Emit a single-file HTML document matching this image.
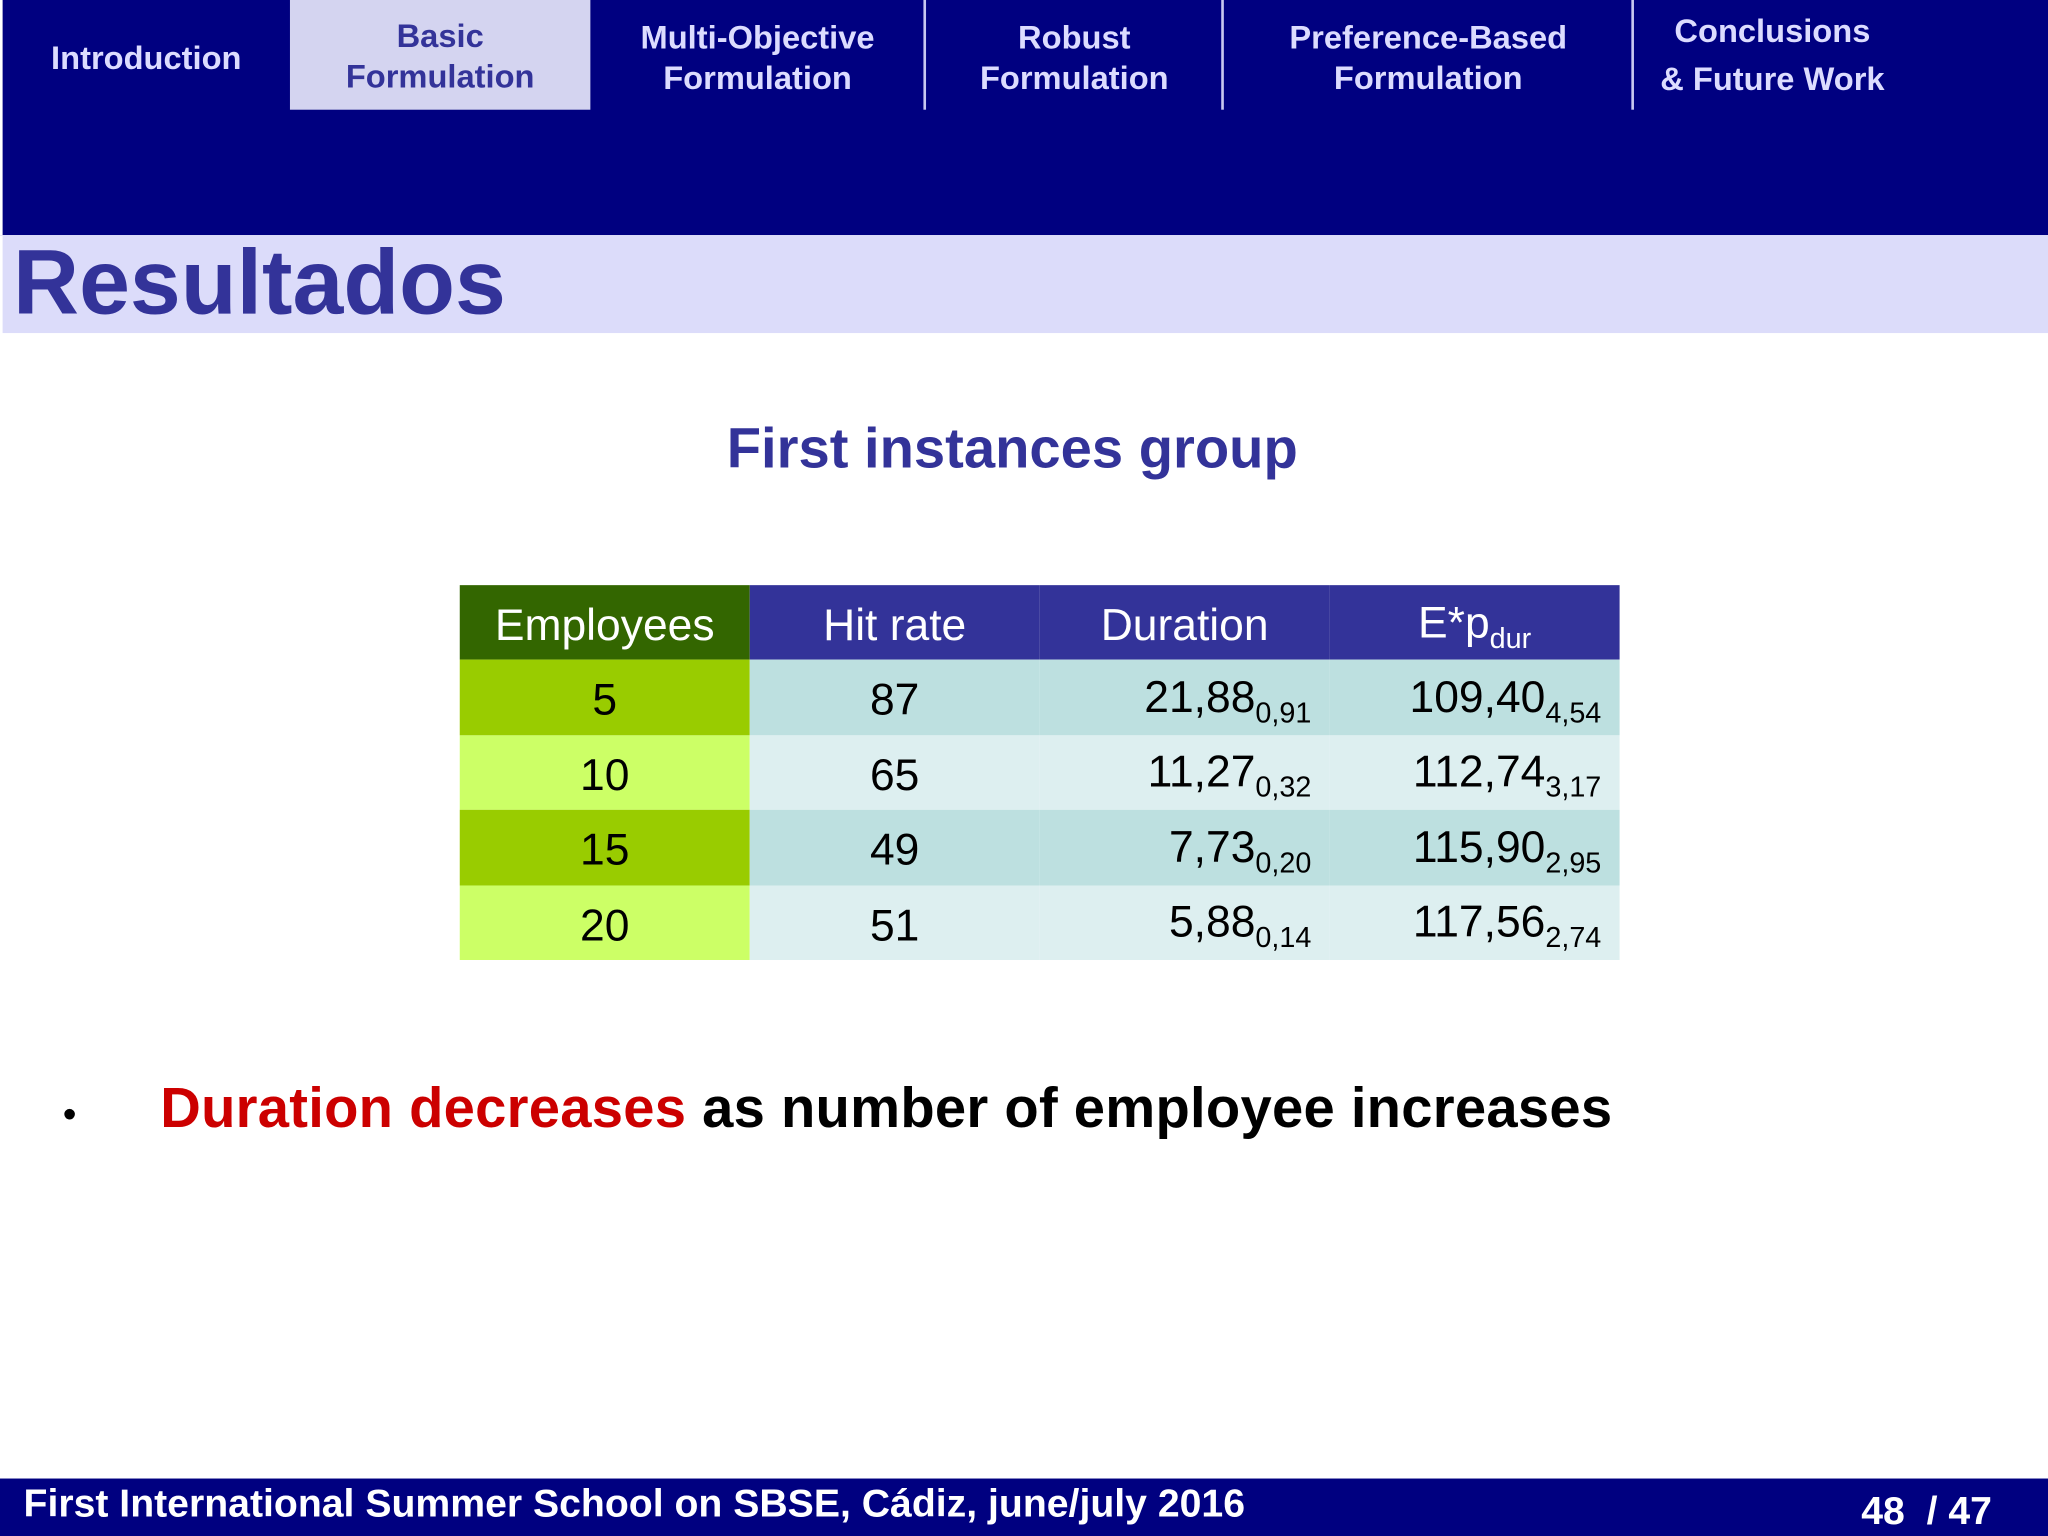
<!DOCTYPE html>
<html><head><meta charset="utf-8"><style>
*{margin:0;padding:0;box-sizing:border-box}
body{width:2048px;height:1536px;overflow:hidden;background:#fff;font-family:"Liberation Sans",sans-serif}
#s{width:1568px;height:1176px;position:relative;transform:scale(1.306122);transform-origin:0 0;background:#fff}
.abs{position:absolute}
#hdr{left:0;top:0;width:1568px;height:180px;background:#000080;border-left:2px solid #fff}
.tab{position:absolute;top:3px;height:84px;color:#dcdcff;font-weight:bold;font-size:25px;text-align:center;line-height:31px;display:flex;align-items:center;justify-content:center}
.sep{position:absolute;top:0;width:2px;height:84px;background:#c8c8f0}
#band{left:2px;top:180px;width:1566px;height:75px;background:#dcdcfa}
#title{left:10px;top:176px;font-size:70px;font-weight:bold;color:#333399}
#sub{left:0;width:1550px;top:320px;text-align:center;font-size:43px;font-weight:bold;color:#333399}
table{position:absolute;left:352px;top:448px;border-collapse:collapse;font-size:34px;color:#000}
td,th{height:57.5px;padding:6px 14px 0;font-weight:normal}
th{background:#333399;color:#fff;text-align:center;height:57px}
th.e{background:#336600}
td.e{text-align:center}
tr.d td.e{background:#99cc00}tr.l td.e{background:#ccff66}
tr.d td{background:#bde0e0}tr.l td{background:#ddeff0}
td.c{text-align:center}td.r{text-align:right}
sub{font-size:22px;vertical-align:-8px}
#bul{left:48px;top:825px;font-size:43px;font-weight:bold;letter-spacing:0.2px}
#foot{left:0;top:1132px;width:1568px;height:44px;background:#000080;color:#fff;font-weight:bold;font-size:30px}
</style></head><body><div id="s">
<div id="hdr" class="abs">
<div class="tab" style="left:0;width:220px">Introduction</div>
<div class="tab" style="left:220px;width:230px;top:0;padding-top:3px;background:#d4d4f0;color:#333399">Basic<br>Formulation</div>
<div class="tab" style="left:450px;width:256px">Multi-Objective<br>Formulation</div>
<div class="sep" style="left:705px"></div>
<div class="tab" style="left:707px;width:227px">Robust<br>Formulation</div>
<div class="sep" style="left:933px"></div>
<div class="tab" style="left:935px;width:313px">Preference-Based<br>Formulation</div>
<div class="sep" style="left:1247px"></div>
<div class="tab" style="left:1249px;width:212px;height:80px;line-height:37px">Conclusions<br>&amp; Future Work</div>
</div>
<div id="band" class="abs"></div>
<div id="title" class="abs">Resultados</div>
<div id="sub" class="abs">First instances group</div>
<table>
<tr><th class="e" style="width:222px">Employees</th><th style="width:222px">Hit rate</th><th style="width:222px">Duration</th><th style="width:222px">E*p<sub>dur</sub></th></tr>
<tr class="d"><td class="e">5</td><td class="c">87</td><td class="r">21,88<sub>0,91</sub></td><td class="r">109,40<sub>4,54</sub></td></tr>
<tr class="l"><td class="e">10</td><td class="c">65</td><td class="r">11,27<sub>0,32</sub></td><td class="r">112,74<sub>3,17</sub></td></tr>
<tr class="d"><td class="e">15</td><td class="c">49</td><td class="r">7,73<sub>0,20</sub></td><td class="r">115,90<sub>2,95</sub></td></tr>
<tr class="l"><td class="e">20</td><td class="c">51</td><td class="r">5,88<sub>0,14</sub></td><td class="r">117,56<sub>2,74</sub></td></tr>
</table>
<div id="bul" class="abs"><span style="font-weight:normal;font-size:30px;margin-right:64px">•</span><span style="color:#cc0000">Duration decreases</span> as number of employee increases</div>
<div id="foot" class="abs"><span class="abs" style="left:18px;top:3px">First International Summer School on SBSE, Cádiz, june/july 2016</span><span class="abs" style="left:1425px;top:9px">48 &nbsp;/ 47</span></div>
</div></body></html>
